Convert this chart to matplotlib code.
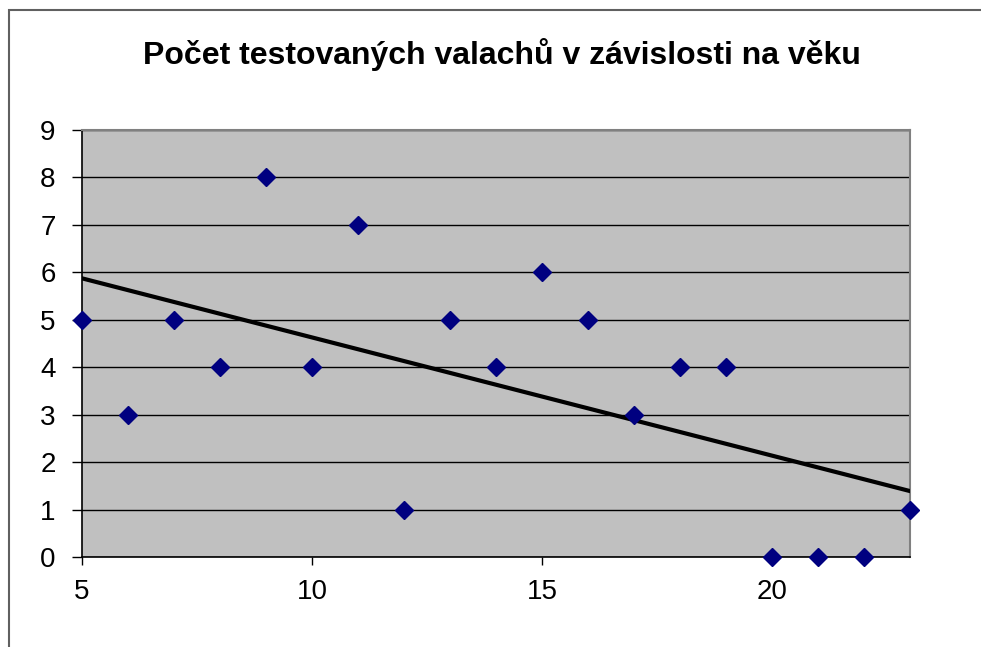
import numpy as np
import matplotlib
matplotlib.use('Agg')
import matplotlib.pyplot as plt
from matplotlib.patches import Rectangle

# věk (roky) a počet testovaných valachů
vek = [5, 6, 7, 8, 9, 10, 11, 12, 13, 14, 15, 16, 17, 18, 19, 20, 21, 22, 23]
pocet = [5, 3, 5, 4, 8, 4, 7, 1, 5, 4, 6, 5, 3, 4, 4, 0, 0, 0, 1]
x_ticks = [5, 10, 15, 20]
y_ticks = [0, 1, 2, 3, 4, 5, 6, 7, 8, 9]
titulek = "Počet testovaných valachů v závislosti na věku"

plt.rcParams['font.family'] = ['Liberation Sans', 'DejaVu Sans']

fig = plt.figure(figsize=(9.81, 6.47), dpi=100)
fig.patch.set_facecolor('white')

# rámeček grafu (jako v Excelu)
fig.patches.append(Rectangle((9 / 981, -0.05), 1.05, 1 - 10 / 647 + 0.05,
                             transform=fig.transFigure, fill=False,
                             edgecolor='#606060', linewidth=1.5))

ax = fig.add_axes([82 / 981, 1 - 557 / 647, (910 - 82) / 981, (557 - 130) / 647])
ax.set_facecolor('#C0C0C0')

# lineární trend
k, q = np.polyfit(vek, pocet, 1)
xs = np.array([min(vek), max(vek)])
ax.plot(xs, k * xs + q, color='black', linewidth=3, zorder=3)

ax.plot(vek, pocet, linestyle='none', marker='D', markersize=9.5,
        color='#000080', clip_on=False, zorder=4)

ax.set_xlim(5, 23)
ax.set_ylim(0, 9)
ax.set_xticks(x_ticks)
ax.set_yticks(y_ticks)
ax.yaxis.grid(True, color='black', linewidth=1)
ax.set_axisbelow(True)

for s in ['left', 'bottom']:
    ax.spines[s].set_color('black')
    ax.spines[s].set_linewidth(1.2)
for s in ['top', 'right']:
    ax.spines[s].set_color('#808080')
    ax.spines[s].set_linewidth(1.5)

ax.tick_params(axis='y', length=7, width=1, labelsize=20, pad=12)
ax.tick_params(axis='x', length=6, width=1, labelsize=20, pad=10)

fig.text(0.512, 1 - 55 / 647, titulek, ha='center', va='center',
         fontsize=23, fontweight='bold')

fig.savefig('out.png', dpi=100)
